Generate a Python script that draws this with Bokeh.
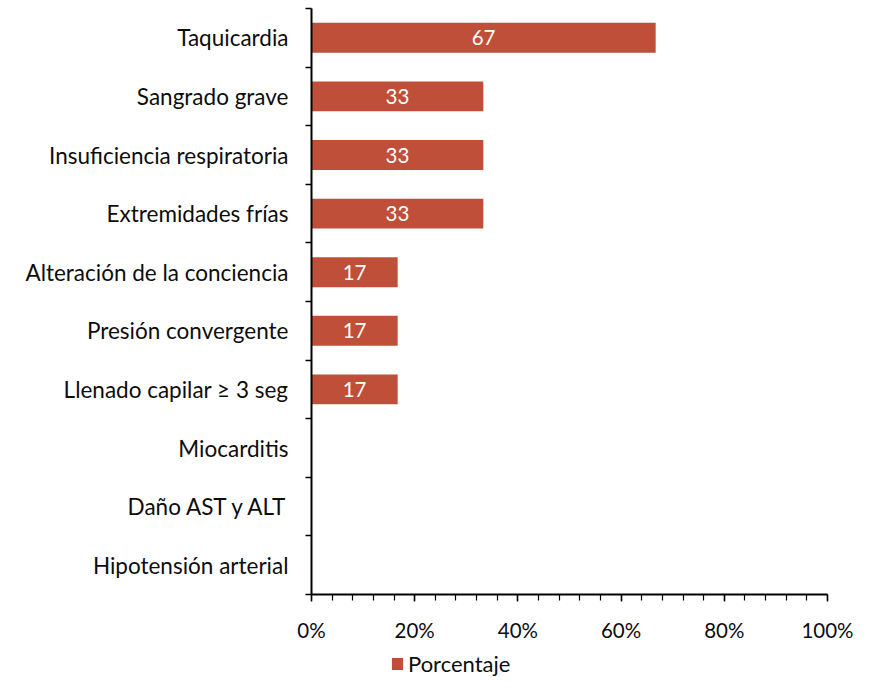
from bokeh.plotting import figure
from bokeh.layouts import column
from bokeh.models import ColumnDataSource, FixedTicker, Legend, LegendItem, Range1d, LabelSet
from bokeh.core.properties import value
from bokeh.embed import file_html
from bokeh.resources import INLINE

categories = ["Taquicardia", "Sangrado grave", "Insuficiencia respiratoria",
              "Extremidades frías", "Alteración de la conciencia", "Presión convergente",
              "Llenado capilar ≥ 3 seg", "Miocarditis", "Daño AST y ALT", "Hipotensión arterial"]
values = [66.7, 33.3, 33.3, 33.3, 16.7, 16.7, 16.7, 0, 0, 0]
labels = ["67", "33", "33", "33", "17", "17", "17", "", "", ""]
x_ticks = [0, 20, 40, 60, 80, 100]
x_tick_labels = ["0%", "20%", "40%", "60%", "80%", "100%"]
series_name = "Porcentaje"

FONT = "Lato"
BAR = "#BF4F38"
TXT = "#0d0d0d"
n = len(categories)
ypos = [n - i - 0.5 for i in range(n)]

src = ColumnDataSource(dict(y=ypos, v=values, lab=labels, xm=[v / 2 for v in values]))

W = 863
p = figure(width=W, height=650, output_backend="svg", toolbar_location=None,
           x_range=Range1d(0, 100), y_range=Range1d(0, n),
           min_border_left=311, min_border_right=36, min_border_top=8, min_border_bottom=56)
p.outline_line_color = None
p.grid.grid_line_color = None
p.background_fill_color = None
p.border_fill_color = "white"

r = p.hbar(y="y", right="v", left=0, height=0.51, source=src, color=BAR, line_color=None)

lbl = LabelSet(x="xm", y="y", text="lab", source=src, text_color="white",
               text_font=value(FONT), text_font_size="20.5px", text_align="center",
               text_baseline="middle")
p.add_layout(lbl)

xa = p.xaxis[0]
xa.ticker = FixedTicker(ticks=x_ticks, minor_ticks=list(range(0, 101, 4)))
xa.major_label_overrides = {t: s for t, s in zip(x_ticks, x_tick_labels)}
xa.major_label_text_font = FONT
xa.major_label_text_font_size = "20.5px"
xa.major_label_text_color = TXT
xa.axis_line_width = 2
xa.axis_line_color = "black"
xa.major_tick_in = 0
xa.major_tick_out = 7
xa.minor_tick_in = 0
xa.minor_tick_out = 6
xa.major_tick_line_width = 1.5
xa.minor_tick_line_width = 1.2
xa.major_label_standoff = 16

ya = p.yaxis[0]
ya.ticker = FixedTicker(ticks=ypos, minor_ticks=list(range(0, n + 1)))
ya.major_label_overrides = {y: c for y, c in zip(ypos, categories)}
ya.major_label_text_font = FONT
ya.major_label_text_font_size = "22.5px"
ya.major_label_text_color = TXT
ya.axis_line_width = 2
ya.axis_line_color = "black"
ya.major_tick_in = 0
ya.major_tick_out = 0
ya.minor_tick_in = 0
ya.minor_tick_out = 6
ya.minor_tick_line_width = 1.5
ya.major_label_standoff = 17

# legend strip below the chart (one off-screen sample bar so the swatch is drawn)
lf = figure(width=W, height=27, output_backend="svg", toolbar_location=None,
            x_range=Range1d(0, 1), y_range=Range1d(0, 1),
            x_axis_type=None, y_axis_type=None,
            min_border_left=0, min_border_right=0, min_border_top=0, min_border_bottom=0)
lf.outline_line_color = None
lf.grid.grid_line_color = None
lr = lf.hbar(y=[-10], right=[values[0]], left=0, height=0.5, color=BAR, line_color=None)
legend = Legend(items=[LegendItem(label=series_name, renderers=[lr])], orientation="horizontal",
                border_line_color=None, background_fill_alpha=0,
                label_text_font=FONT, label_text_font_size="22px", label_text_color=TXT,
                glyph_width=14, glyph_height=15, label_standoff=4, padding=0, margin=0,
                location=(79, 0))
lf.add_layout(legend)

layout = column(p, lf, spacing=0)
open("out.html", "w").write(file_html(layout, INLINE))
